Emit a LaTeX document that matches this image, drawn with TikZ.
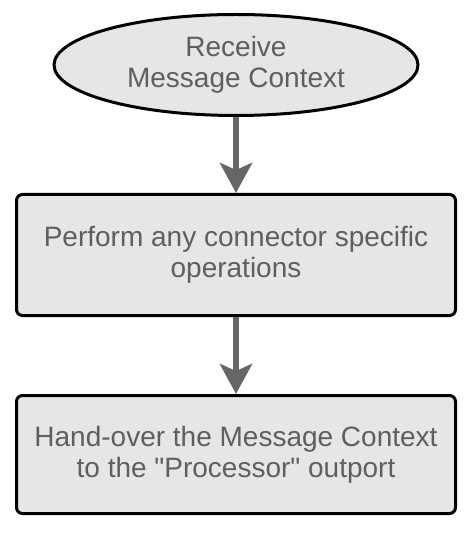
\documentclass[tikz,border=0pt]{standalone}
\usepackage{fontspec}
\setmainfont{Liberation Sans}
\usepackage{xcolor}
\usetikzlibrary{arrows.meta,positioning,shapes.geometric}
\definecolor{stepfill}{HTML}{E6E6E6}
\definecolor{steptext}{HTML}{5F5F5F}
\definecolor{flowgray}{HTML}{666666}

\begin{document}
\begin{tikzpicture}[x=1pt,y=1pt,font=\fontsize{28}{31}\selectfont,
  startnode/.style={draw,ellipse,line width=3pt,fill=stepfill,text=steptext,align=center,minimum width=364pt,minimum height=101pt,inner sep=0pt},
  stepbox/.style={draw,rounded corners=6pt,line width=3pt,fill=stepfill,text=steptext,align=center,minimum width=439pt,inner sep=0pt},
  flow/.style={draw=flowgray,line width=6pt,-{Stealth[length=30pt,width=32pt,inset=7pt]}}]
\useasboundingbox (0,0) rectangle (474,-534);
\node[startnode] (receive) at (236,-65) {Receive\\Message Context};
\node[stepbox,minimum height=121pt,below=76pt of receive] (perform) {Perform any connector specific\\operations};
\node[stepbox,minimum height=118pt,below=77pt of perform] (handover) {Hand-over the Message Context\\to the \textquotedbl Processor\textquotedbl\ outport};
\draw[flow] (receive) -- (perform);
\draw[flow] (perform) -- (handover);
\end{tikzpicture}
\end{document}
